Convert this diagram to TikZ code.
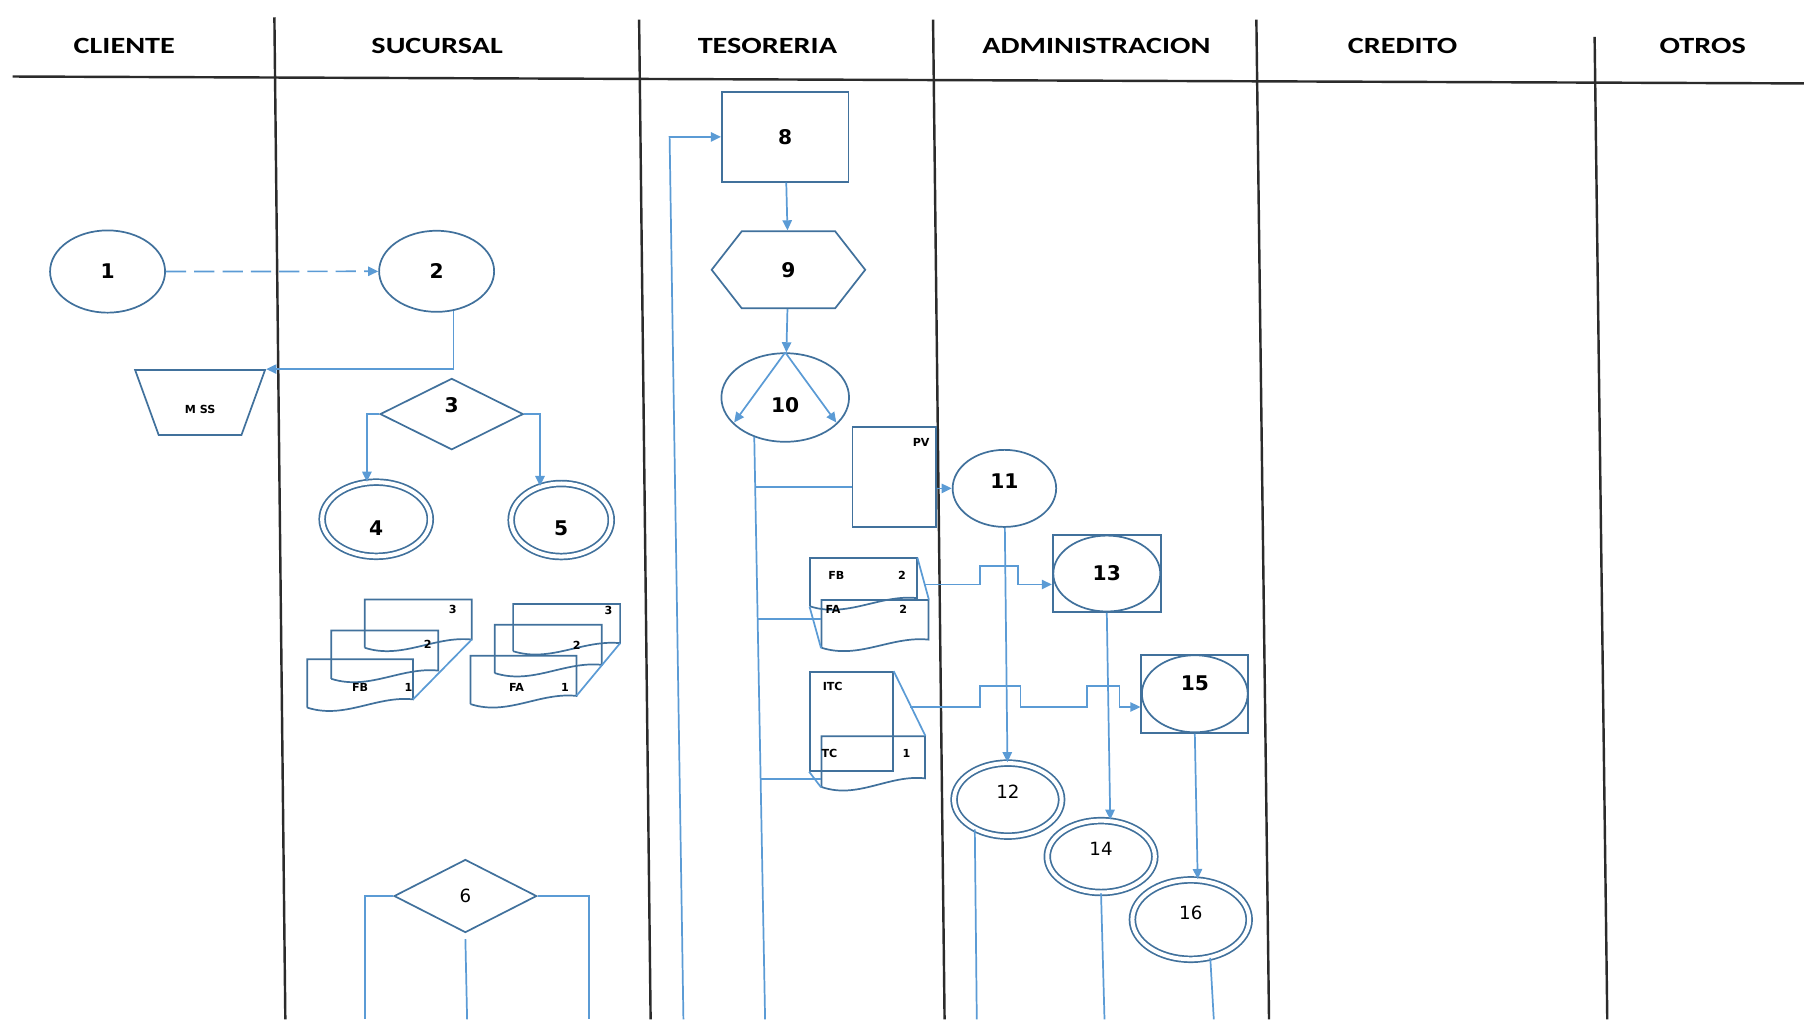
\documentclass[tikz,border=0pt]{standalone}
\usepackage{fontspec}
\setmainfont{DejaVu Sans}
\newfontfamily\headfont[FakeStretch=1.3]{Carlito}
\usetikzlibrary{shapes.geometric,shapes.symbols,arrows.meta}

\definecolor{shapeblue}{HTML}{41719C}
\definecolor{linkblue}{HTML}{5B9BD5}
\definecolor{lanegray}{HTML}{2B2B2B}

% document symbol: name, left, top, width, left height
\newcommand{\docu}[5]{%
    \node[docbox, minimum width=#4*0.02cm, minimum height=#5*0.02cm] (#1) at (#2+#4/2,#3+#5/2) {};
    \coordinate (#1-br) at (#2+#4,#3+0.83*#5);
    \draw[outline] (#2,#3+#5) -- (#2,#3) -- (#2+#4,#3) -- (#1-br)
        .. controls (#2+0.65*#4,#3+0.75*#5) and (#2+0.35*#4,#3+1.25*#5) .. (#2,#3+#5);
}

\begin{document}
\begin{tikzpicture}[x=0.02cm, y=-0.02cm,
        outline/.style={draw=shapeblue, line width=0.85pt},
        link/.style={draw=linkblue, line width=0.85pt},
        flow/.style={link, -{Triangle[length=5pt,width=4.6pt]}},
        lane/.style={draw=lanegray, line width=1.2pt},
        lanehead/.style={font=\headfont\bfseries\fontsize{11.5}{13}\selectfont},
        num/.style={font=\bfseries\fontsize{10}{12}\selectfont},
        plainnum/.style={font=\fontsize{9}{11}\selectfont},
        minilabel/.style={font=\bfseries\fontsize{5.5}{6}\selectfont, inner sep=0},
        oval/.style={ellipse, outline, inner sep=0, num},
        dbl/.style={oval, double=white, double distance=2pt},
        box/.style={rectangle, outline, inner sep=0, num},
        rhomb/.style={diamond, outline, inner sep=0, num},
        hexa/.style={signal, signal to=west and east, signal pointer angle=104, outline, inner sep=0, num},
        ringbox/.style 2 args={box, minimum width=#1, minimum height=#2,
            path picture={\draw[outline] (path picture bounding box.center) ellipse [x radius=#1/2-0.01cm, y radius=#2/2-0.01cm];}},
        docbox/.style={inner sep=0}]
        \useasboundingbox (0,0) rectangle (1568,886);

        \draw[lane] (11,66.5) -- (1568,72.5);
        \foreach \xt/\yt/\xb in {238.5/15/248, 555.5/17/565.5, 811/17/821, 1092/17/1103, 1386/32/1397}
            \draw[lane] (\xt,\yt) -- (\xb,886);
        \foreach \t/\x in {CLIENTE/108, SUCURSAL/380, TESORERIA/667, ADMINISTRACION/953, CREDITO/1219, OTROS/1480}
            \node[lanehead] (\t) at (\x,40) {\t};

        \node[oval, minimum width=2cm, minimum height=1.43cm] (1) at (93.5,236) {1};
        \node[oval, minimum width=2cm, minimum height=1.41cm] (2) at (379.5,235.8) {2};
        \node[trapezium, trapezium left angle=112, trapezium right angle=112, trapezium stretches=true,
            outline, inner sep=0, minimum width=2.26cm, minimum height=1.13cm,
            minilabel, text height=0.37cm] (mss) at (173.9,349.8) {M SS};
        \node[rhomb, minimum width=2.49cm, minimum height=1.24cm, text depth=0.32cm] (3) at (392.6,359.9) {3};
        \node[dbl, minimum width=1.88cm, minimum height=1.29cm, text height=0.57cm] (4) at (327,451.3) {4};
        \node[dbl, minimum width=1.74cm, minimum height=1.27cm, text height=0.55cm] (5) at (487.8,452) {5};
        \node[rhomb, minimum width=2.48cm, minimum height=1.27cm, plainnum] (6) at (404.5,778.8) {6};

        \node[box, minimum width=2.2cm, minimum height=1.56cm] (8) at (682.4,119) {8};
        \node[hexa, minimum width=2.67cm, minimum height=1.34cm] (9) at (685.3,234.5) {9};
        \node[oval, minimum width=2.22cm, minimum height=1.54cm, text height=0.52cm] (10) at (682.5,345.5) {10};
        \node[box, minimum width=1.45cm, minimum height=1.74cm,
            label={[minilabel, anchor=north east, xshift=-0.12cm, yshift=-0.2cm]north east:PV}] (pv) at (777.3,414.5) {};
        \node[box, minimum width=1.44cm, minimum height=1.72cm,
            label={[minilabel, anchor=north west, xshift=0.23cm, yshift=-0.18cm]north west:ITC}] (itc) at (740,627) {};

        \node[oval, minimum width=1.8cm, minimum height=1.34cm, text depth=0.24cm] (11) at (873,424.5) {11};
        \node[ringbox={1.88cm}{1.34cm}] (13) at (962,498.5) {13};
        \node[ringbox={1.86cm}{1.36cm}, text depth=0.36cm] (15) at (1038.5,603) {15};
        \node[dbl, plainnum, minimum width=1.87cm, minimum height=1.27cm, text depth=0.28cm] (12) at (876,695) {12};
        \node[dbl, plainnum, minimum width=1.87cm, minimum height=1.25cm, text depth=0.28cm] (14) at (957,744.5) {14};
        \node[dbl, plainnum, minimum width=2.03cm, minimum height=1.38cm, text depth=0.24cm] (16) at (1035,799.3) {16};

        \foreach \n/\x/\y/\w/\h in {fb3/317/521/93/42, fb2/288/548/93/42, fb1/267/573/92/42,
                fa3/446/525/93/41, fa2/430/543/93/42, fa1/409/570/92/42,
                tfb/704/485/93/42, tfa/714/521.5/93/41.5, ttc/714/640/90/44}
            \docu{\n}{\x}{\y}{\w}{\h};
        \foreach \t/\x/\y [count=\i] in {3/393.5/530, 2/371.7/560, FB/313/597.4, 1/355/597.4,
                3/528.8/530.2, 2/501.2/560.6, FA/449/597.4, 1/491/597.4,
                FB/727/500, 2/784/500, FA/724/530, 2/785/530, TC/721/655, 1/788/655}
            \node[minilabel] (tag\i) at (\x,\y) {\t};

        \foreach \from/\to in {fb1-br/fb3-br, fa1-br/fa3-br, tfb.north east/tfa.north east,
                tfb.south west/tfa.south west, itc.north east/ttc.north east, itc.south west/ttc.south west}
            \draw[link] (\from) -- (\to);

        \coordinate (start8) at (594,886);
        \coordinate (end6l) at (317.3,886);
        \coordinate (end6m) at (406,886);
        \coordinate (end6r) at (512,886);
        \coordinate (end10) at (665,886);
        \coordinate (end12) at (849,886);
        \coordinate (end14) at (960,886);
        \coordinate (end16) at (1055,886);
        \coordinate (t1) at (656.8,423);
        \coordinate (t2) at (658.8,538);
        \coordinate (t3) at (661.3,677);
        \coordinate (hop13) at (803,508);
        \coordinate (hop15) at (791,614.5);

        \draw[flow, dash pattern=on 10pt off 4pt] (1) -- (2);
        \draw[flow] (2.293) |- (mss.top right corner);
        \draw[flow] (3.west) -| (4.104);
        \draw[flow] (3.east) -| (5.122);
        \draw[link] (6.west) -| (end6l);
        \draw[link] (6.east) -| (end6r);
        \draw[link] ([yshift=-0.1cm]6.south) -- (end6m);

        \draw[flow] (start8) -- ++(-12,-767) -- (8.west);
        \foreach \from/\to in {8/9, 9/10, 11/12}
            \draw[flow] (\from) -- (\to);
        \draw[flow, shorten >=1pt] (10.north) -- (10.207);
        \draw[flow, shorten >=1pt] (10.north) -- (10.333);
        \draw[link] (10.232) -- (end10);
        \draw[link] (t1) -- (t1 -| pv.west);
        \draw[link] (t2) -- (t2 -| tfa.west);
        \draw[link] (t3) -- (t3 -| ttc.west);
        \draw[flow] (pv.east |- 11.west) -- (11.west);

        \draw[flow] (hop13) -- ++(49,0) -- ++(0,-16) -- ++(33,0) -- ++(0,16) -- (hop13 -| 13.west);
        \draw[flow] (hop15) -- ++(61,0) -- ++(0,-18.5) -- ++(35,0) -- ++(0,18.5)
            -- ++(58,0) -- ++(0,-18.5) -- ++(28,0) -- ++(0,18.5) -- (hop15 -| 15.west);
        \draw[flow] (13.south) -- ([xshift=0.16cm]14.north);
        \draw[flow] (15.south) -- ([xshift=0.12cm]16.north);
        \draw[link] (12.222) -- (end12);
        \draw[link] (14.south) -- (end14);
        \draw[link] (16.297) -- (end16);
\end{tikzpicture}
\end{document}
